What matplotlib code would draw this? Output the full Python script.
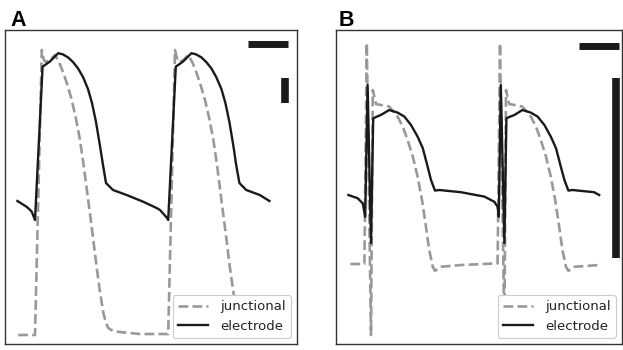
import matplotlib
matplotlib.use("Agg")
import matplotlib.pyplot as plt

# ---- Panel A data (time in ms, membrane potential in mV) ----
tA_el = [1, 24, 32, 37, 45, 64, 70, 82, 103, 115, 127.5, 140, 152.5, 165, 177.5, 187.5, 197.5, 207.5, 215, 222.5,
         240, 274, 316, 349, 357.5, 370, 375, 378,
         397, 403, 415, 436, 448, 461, 473, 486, 498, 511, 521, 531, 541, 548, 556,
         573, 607, 631]
vA_el = [-0.5, -3.4, -4.8, -5.9, -10, 66.7, 67.5, 69.2, 73.4, 72.8, 71.3, 69, 65.8, 61.5, 55.5, 48.5, 39, 27, 17.5, 8.5,
         5, 2.5, -0.9, -4, -5, -7.8, -9, -10,
         66.7, 67.5, 69.2, 73.4, 72.8, 71.3, 69, 65.8, 61.5, 55.5, 48.5, 39, 27, 17.5, 8.5,
         5, 2.5, -0.5]

tA_j = [3, 45, 62, 67, 72, 82, 95, 105, 116, 126, 137, 147.5, 157.5, 167.5, 178, 189, 199, 207.5, 216, 222.5, 228, 240,
        257, 307, 378,
        395, 401, 406, 416, 428, 438, 449, 459, 470, 481, 491, 501, 511, 522, 532, 541, 549, 556, 561, 573, 590, 630]
vA_j = [-67.5, -67.5, 75, 70, 69, 70, 72.5, 69, 63.5, 57.5, 50, 40.5, 30, 16, 0, -17, -33.5, -46, -56.5, -61.5, -64, -65.5,
        -66, -67, -67,
        75, 70, 69, 70, 72.5, 69, 63.5, 57.5, 50, 40.5, 30, 16, 0, -17, -33.5, -46, -56.5, -61.5, -64, -65.5, -66, -67]

# ---- Panel B data ----
tB_el = [1, 24, 37, 43, 49, 57.5, 63, 70, 82, 103, 124, 141, 157.5, 174, 187, 199, 207.5, 217.5, 228, 282, 341, 366, 374, 377,
         382, 391, 396, 403, 416, 436, 457, 474, 491, 507, 520, 532, 541, 551, 561, 615, 628]
vB_el = [2.5, 0.9, -1.7, -8.4, 57.5, -21.5, 40.8, 41.5, 42.5, 45, 43.7, 41.7, 37.5, 31.7, 25.9, 16.7, 10, 4.7, 5, 3.9, 1.7, -0.9, -3.4, -8.4,
         57.5, -21.5, 40.8, 41.5, 42.5, 45, 43.7, 41.7, 37.5, 31.7, 25.9, 16.7, 10, 4.7, 5, 3.9, 2.5]

tB_j = [6, 41, 47, 57.5, 62, 70, 103, 124, 137, 149, 162, 174, 185, 195, 203, 212, 217.5, 232.5, 282.5, 374,
        380, 391, 395, 403, 436, 457, 470, 482, 495, 507, 518, 528, 536, 545, 551, 566, 628]
vB_j = [-32, -32, 78.4, -67.5, 55, 48, 46.7, 41.7, 36.7, 30, 21.7, 11.7, 0, -13.4, -25, -33.4, -35.4, -33.4, -32.5, -31.7,
        78.4, -67.5, 55, 48, 46.7, 41.7, 36.7, 30, 21.7, 11.7, 0, -13.4, -25, -33.4, -35.4, -33.4, -32.5]

# scale bars: (t0, t1, v) horizontal and (t, v0, v1) vertical
scaleA_h = [577, 677, 78]
scaleA_v = [669, 61, 48.5]
scaleB_h = [578, 678, 77]
scaleB_v = [670, 61, -29]

labels = ["junctional", "electrode"]
panel_names = ["A", "B"]

W, H = 623, 350
fig = plt.figure(figsize=(W / 100, H / 100), dpi=100)

def px_axes(l, r, t, b):
    return fig.add_axes([l / W, 1 - b / H, (r - l) / W, (b - t) / H])

axA = px_axes(5, 297, 29.5, 344)
axB = px_axes(336, 622, 29.5, 344)

gray = "#999999"
black = "#1a1a1a"

panels = [
    (axA, tA_j, vA_j, tA_el, vA_el, scaleA_h, scaleA_v, (-30, 700)),
    (axB, tB_j, vB_j, tB_el, vB_el, scaleB_h, scaleB_v, (-30, 685)),
]
for ax, tj, vj, te, ve, sh, sv, xl in panels:
    ax.plot(tj, vj, linestyle="--", color=gray, lw=1.9, label=labels[0])
    ax.plot(te, ve, linestyle="-", color=black, lw=1.7, label=labels[1])
    ax.plot([sh[0], sh[1]], [sh[2], sh[2]], color=black, lw=5, solid_capstyle="butt")
    ax.plot([sv[0], sv[0]], [sv[1], sv[2]], color=black, lw=5.5, solid_capstyle="butt")
    ax.set_xlim(*xl)
    ax.set_ylim(-72, 85.25)
    ax.set_xticks([])
    ax.set_yticks([])
    for s in ax.spines.values():
        s.set_color("#333333")
        s.set_linewidth(1.0)
    leg = ax.legend(loc="lower right", fontsize=9.5, borderaxespad=0.45, framealpha=1,
                    edgecolor="#cccccc", fancybox=True, handlelength=2.3, handletextpad=0.9)
    leg.get_frame().set_linewidth(0.8)
    for t in leg.get_texts():
        t.set_color("#222222")

fig.text(10 / W, 1 - 26 / H, panel_names[0], fontsize=15.5, fontweight="bold",
         family="Liberation Sans", va="baseline", ha="left")
fig.text(339 / W, 1 - 26 / H, panel_names[1], fontsize=15.5, fontweight="bold",
         family="Liberation Sans", va="baseline", ha="left")

fig.savefig("out.png", dpi=100)
